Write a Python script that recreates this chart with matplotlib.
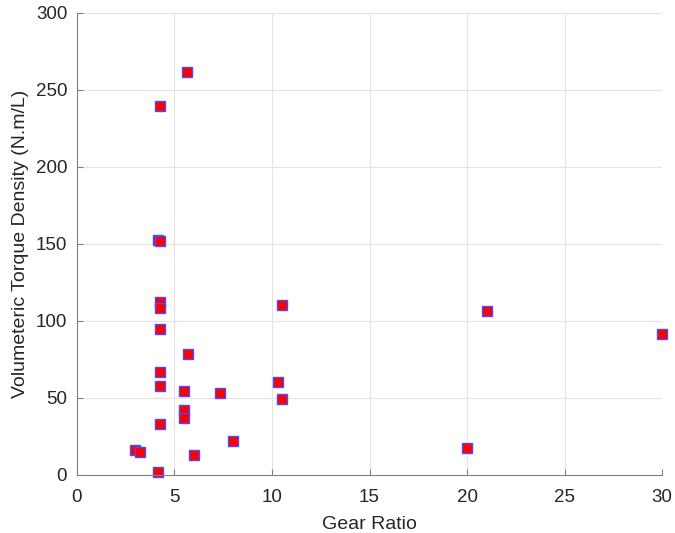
import matplotlib.pyplot as plt

plt.rcParams['font.family'] = ['Liberation Sans', 'DejaVu Sans']

# Gear ratio vs volumetric torque density
gear_ratio = [5.66, 4.24, 4.15, 4.24, 4.24, 4.24, 4.24, 10.5, 21.0, 30.0,
              5.71, 4.24, 4.24, 5.49, 7.33, 10.3, 10.5, 5.49, 5.49, 4.24,
              7.98, 2.97, 3.22, 6.0, 20.0, 4.15]
torque_density = [261.7, 239.2, 152.4, 151.8, 112.5, 108.2, 95.0, 110.6, 106.5, 91.6,
                  78.4, 66.7, 57.6, 54.7, 53.4, 60.6, 49.4, 42.4, 37.0, 33.1,
                  22.3, 16.0, 14.9, 12.8, 17.5, 1.9]

fig = plt.figure(figsize=(6.75, 5.33), dpi=100)
ax = fig.add_axes([0.114, 0.109, 0.867, 0.867])

ax.plot(gear_ratio, torque_density, 's', markersize=6.5,
        markerfacecolor='red', markeredgecolor='#4a4aff', markeredgewidth=1.0,
        clip_on=False)

ax.set_xlim(0, 30)
ax.set_ylim(0, 300)
ax.set_xticks(range(0, 31, 5))
ax.set_yticks(range(0, 301, 50))
ax.grid(True, color='#e3e3e3', linewidth=0.8)
ax.set_axisbelow(True)

for s in ['top', 'right']:
    ax.spines[s].set_visible(False)
for s in ['left', 'bottom']:
    ax.spines[s].set_color('#808080')
    ax.spines[s].set_linewidth(0.8)
ax.tick_params(direction='in', length=4, color='#808080', labelsize=13.5,
               labelcolor='#262626')
ax.tick_params(axis='x', pad=10)
ax.tick_params(axis='y', pad=7)

ax.set_xlabel('Gear Ratio', fontsize=14, color='#262626', labelpad=7)
ax.set_ylabel('Volumeteric Torque Density (N.m/L)', fontsize=14, color='#262626',
              labelpad=5)

fig.savefig('out.png', dpi=100)
